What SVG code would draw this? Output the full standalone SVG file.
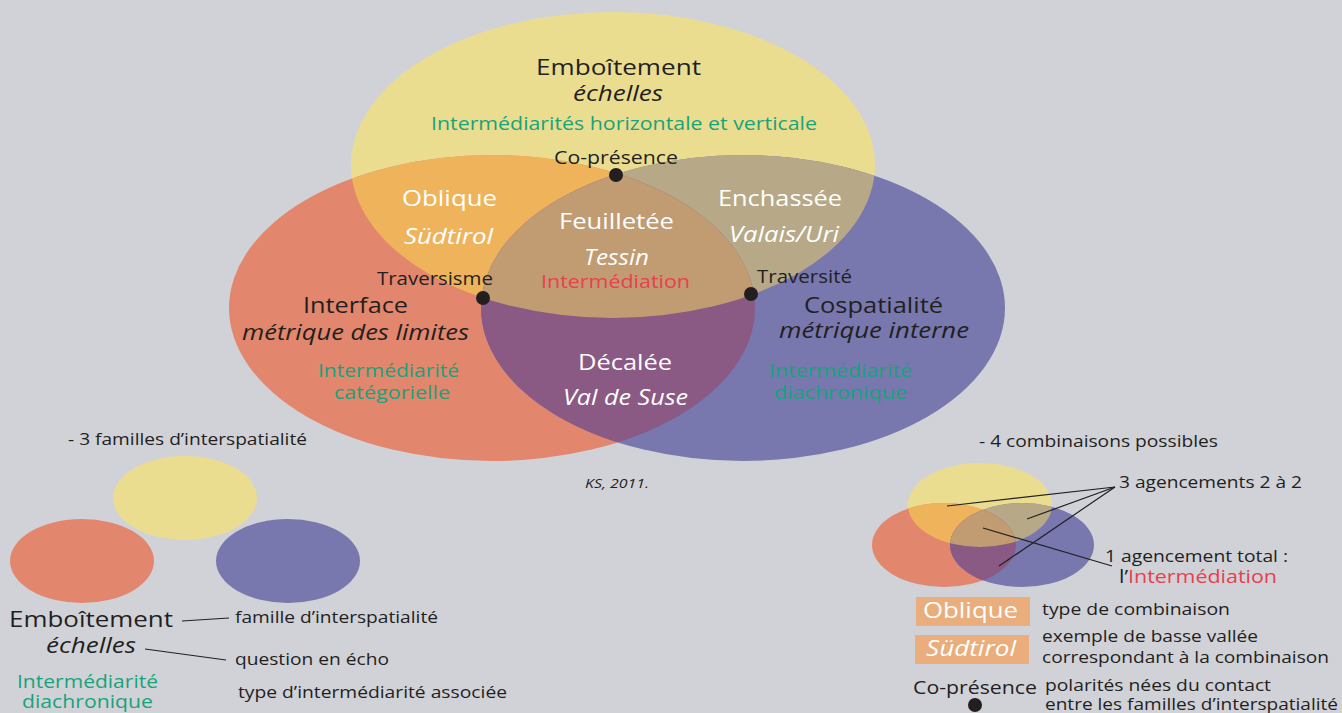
<svg xmlns="http://www.w3.org/2000/svg" width="1342" height="713" viewBox="0 0 1342 713">
<style>
text{font-family:"Open Sans","Noto Sans","DejaVu Sans",sans-serif;}
.k{fill:#231f20}
.w{fill:#ffffff}
.g{fill:#17a37b}
.r{fill:#e8404f}
.i{font-style:italic}
.big{font-size:22px}
.lab{font-size:18.5px}
.gr{font-size:19px}
.sm{font-size:16.5px}
.ln{stroke:#231f20;stroke-width:1.2;fill:none}
.dot{fill:#231f20}
</style>
<defs>
<clipPath id="cY"><ellipse cx="613" cy="165" rx="262" ry="153"/></clipPath>
<clipPath id="cR"><ellipse cx="492" cy="308" rx="263" ry="153"/></clipPath>
<clipPath id="sY"><ellipse cx="980" cy="505" rx="72" ry="42"/></clipPath>
<clipPath id="sR"><ellipse cx="944" cy="545" rx="72" ry="42"/></clipPath>
</defs>
<rect width="1342" height="713" fill="#d1d2d7"/>

<g id="venn-main">
<ellipse cx="613" cy="165" rx="262" ry="153" fill="#ebdd90"/>
<ellipse cx="492" cy="308" rx="263" ry="153" fill="#e2866d"/>
<ellipse cx="743" cy="308" rx="262" ry="153" fill="#7877ae"/>
<g clip-path="url(#cY)"><ellipse cx="492" cy="308" rx="263" ry="153" fill="#efb45b"/><ellipse cx="743" cy="308" rx="262" ry="153" fill="#b7a988"/></g>
<g clip-path="url(#cR)"><ellipse cx="743" cy="308" rx="262" ry="153" fill="#8a5a85"/></g>
<g clip-path="url(#cY)"><g clip-path="url(#cR)"><ellipse cx="743" cy="308" rx="262" ry="153" fill="#c19b72"/></g></g>
</g>

<g id="emboitement">
<text class="k big" x="536" y="75" textLength="165" lengthAdjust="spacingAndGlyphs">Emboîtement</text>
<text class="k big i" x="573" y="101" textLength="90" lengthAdjust="spacingAndGlyphs">échelles</text>
<text class="g lab" x="431" y="130" textLength="386" lengthAdjust="spacingAndGlyphs">Intermédiarités horizontale et verticale</text>
</g>
<g id="interface">
<text class="k big" x="303" y="313" textLength="105" lengthAdjust="spacingAndGlyphs">Interface</text>
<text class="k big i" x="242" y="340" textLength="227" lengthAdjust="spacingAndGlyphs">métrique des limites</text>
<text class="g gr" x="318" y="377" textLength="141" lengthAdjust="spacingAndGlyphs">Intermédiarité</text>
<text class="g gr" x="334" y="399" textLength="116" lengthAdjust="spacingAndGlyphs">catégorielle</text>
</g>
<g id="cospatialite">
<text class="k big" x="804" y="313" textLength="139" lengthAdjust="spacingAndGlyphs">Cospatialité</text>
<text class="k big i" x="779" y="338" textLength="190" lengthAdjust="spacingAndGlyphs">métrique interne</text>
<text class="g gr" x="769" y="377" textLength="143" lengthAdjust="spacingAndGlyphs">Intermédiarité</text>
<text class="g gr" x="774" y="399" textLength="133" lengthAdjust="spacingAndGlyphs">diachronique</text>
</g>
<g id="oblique">
<text class="w big" x="402" y="206" textLength="95" lengthAdjust="spacingAndGlyphs">Oblique</text>
<text class="w big i" x="404" y="244" textLength="89" lengthAdjust="spacingAndGlyphs">Südtirol</text>
</g>
<g id="enchassee">
<text class="w big" x="718" y="206" textLength="124" lengthAdjust="spacingAndGlyphs">Enchassée</text>
<text class="w big i" x="729" y="242" textLength="110" lengthAdjust="spacingAndGlyphs">Valais/Uri</text>
</g>
<g id="feuilletee">
<text class="w big" x="559" y="229" textLength="115" lengthAdjust="spacingAndGlyphs">Feuilletée</text>
<text class="w big i" x="584" y="265" textLength="65" lengthAdjust="spacingAndGlyphs">Tessin</text>
<text class="r gr" x="541" y="288" textLength="149" lengthAdjust="spacingAndGlyphs">Intermédiation</text>
</g>
<g id="decalee">
<text class="w big" x="578" y="370" textLength="94" lengthAdjust="spacingAndGlyphs">Décalée</text>
<text class="w big i" x="563" y="405" textLength="125" lengthAdjust="spacingAndGlyphs">Val de Suse</text>
</g>
<g id="copresence">
<text class="k lab" x="554" y="164" textLength="124" lengthAdjust="spacingAndGlyphs">Co-présence</text>
<circle class="dot" cx="616" cy="175" r="7"/>
</g>
<g id="traversisme">
<text class="k lab" x="377" y="285" textLength="116" lengthAdjust="spacingAndGlyphs">Traversisme</text>
<circle class="dot" cx="483" cy="298" r="7"/>
</g>
<g id="traversite">
<text class="k lab" x="757" y="283" textLength="95" lengthAdjust="spacingAndGlyphs">Traversité</text>
<circle class="dot" cx="751" cy="294" r="7"/>
</g>
<text class="k i" x="585" y="488" style="font-size:12px" textLength="64" lengthAdjust="spacingAndGlyphs">KS, 2011.</text>

<g id="legend-familles">
<text class="k sm" x="68" y="445" textLength="239" lengthAdjust="spacingAndGlyphs">- 3 familles d’interspatialité</text>
<ellipse cx="185" cy="498" rx="72" ry="42" fill="#ebdd90"/>
<ellipse cx="82" cy="561" rx="72" ry="42" fill="#e2866d"/>
<ellipse cx="288" cy="561" rx="72" ry="42" fill="#7877ae"/>
<text class="k big" x="9" y="627" textLength="164" lengthAdjust="spacingAndGlyphs">Emboîtement</text>
<text class="k big i" x="46" y="653" textLength="90" lengthAdjust="spacingAndGlyphs">échelles</text>
<text class="g gr" x="17" y="688" textLength="141" lengthAdjust="spacingAndGlyphs">Intermédiarité</text>
<text class="g gr" x="22" y="708" textLength="131" lengthAdjust="spacingAndGlyphs">diachronique</text>
<text class="k sm" x="235" y="623" textLength="203" lengthAdjust="spacingAndGlyphs">famille d’interspatialité</text>
<text class="k sm" x="235" y="665" textLength="154" lengthAdjust="spacingAndGlyphs">question en écho</text>
<text class="k sm" x="238" y="698" textLength="269" lengthAdjust="spacingAndGlyphs">type d’intermédiarité associée</text>
</g>

<g id="legend-combinaisons">
<text class="k sm" x="979" y="447" textLength="239" lengthAdjust="spacingAndGlyphs">- 4 combinaisons possibles</text>
<ellipse cx="980" cy="505" rx="72" ry="42" fill="#ebdd90"/>
<ellipse cx="944" cy="545" rx="72" ry="42" fill="#e2866d"/>
<ellipse cx="1022" cy="545" rx="72" ry="42" fill="#7877ae"/>
<g clip-path="url(#sY)"><ellipse cx="944" cy="545" rx="72" ry="42" fill="#efb45b"/><ellipse cx="1022" cy="545" rx="72" ry="42" fill="#b7a988"/></g>
<g clip-path="url(#sR)"><ellipse cx="1022" cy="545" rx="72" ry="42" fill="#8a5a85"/></g>
<g clip-path="url(#sY)"><g clip-path="url(#sR)"><ellipse cx="1022" cy="545" rx="72" ry="42" fill="#c19b72"/></g></g>
<text class="k sm" x="1119" y="488" textLength="183" lengthAdjust="spacingAndGlyphs">3 agencements 2 à 2</text>
<text class="k sm" x="1105" y="562" textLength="183" lengthAdjust="spacingAndGlyphs">1 agencement total :</text>
<text x="1119" y="583" style="font-size:17.5px" textLength="158" lengthAdjust="spacingAndGlyphs"><tspan class="k">l’</tspan><tspan class="r">Intermédiation</tspan></text>
<rect x="916" y="597" width="114" height="29" fill="#e9ae7b"/>
<text class="w big" x="923" y="618" textLength="95" lengthAdjust="spacingAndGlyphs">Oblique</text>
<rect x="915" y="635" width="114" height="29" fill="#e9ae7b"/>
<text class="w big i" x="926" y="656" textLength="90" lengthAdjust="spacingAndGlyphs">Südtirol</text>
<text class="k sm" x="1042" y="615" textLength="188" lengthAdjust="spacingAndGlyphs">type de combinaison</text>
<text class="k sm" x="1042" y="642" textLength="216" lengthAdjust="spacingAndGlyphs">exemple de basse vallée</text>
<text class="k sm" x="1042" y="663" textLength="287" lengthAdjust="spacingAndGlyphs">correspondant à la combinaison</text>
<text class="k lab" x="913" y="694" textLength="124" lengthAdjust="spacingAndGlyphs">Co-présence</text>
<circle class="dot" cx="975" cy="705" r="7"/>
<text class="k sm" x="1045" y="691" textLength="226" lengthAdjust="spacingAndGlyphs">polarités nées du contact</text>
<text class="k sm" x="1045" y="710" textLength="293" lengthAdjust="spacingAndGlyphs">entre les familles d’interspatialité</text>
</g>

<g id="connectors">
<line class="ln" x1="182" y1="621" x2="229" y2="618"/>
<line class="ln" x1="145" y1="649" x2="226" y2="660"/>
<line class="ln" x1="1115" y1="487" x2="947" y2="506"/>
<line class="ln" x1="1115" y1="487" x2="1027" y2="519"/>
<line class="ln" x1="1115" y1="487" x2="999" y2="566"/>
<line class="ln" x1="983" y1="528" x2="1112" y2="566"/>
</g>
</svg>
